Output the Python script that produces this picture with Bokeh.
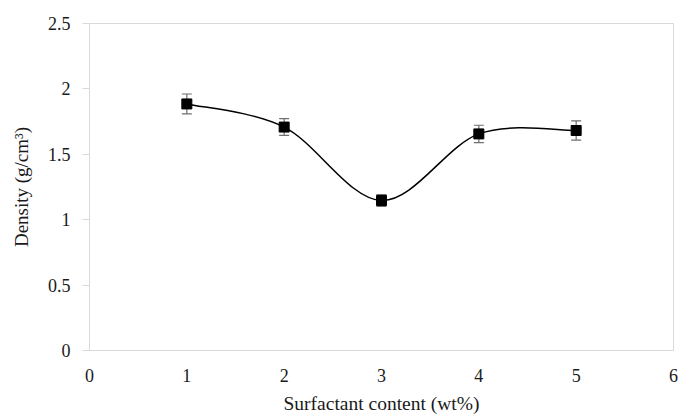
from bokeh.plotting import figure
from bokeh.models import ColumnDataSource, Range1d, FixedTicker, Whisker, TeeHead
from bokeh.embed import file_html
from bokeh.resources import INLINE

# Data
surfactant = [1, 2, 3, 4, 5]
density = [1.885, 1.708, 1.147, 1.656, 1.682]
density_err = [0.076, 0.064, 0.045, 0.066, 0.073]

x_ticks = [0, 1, 2, 3, 4, 5, 6]
y_ticks = [0, 0.5, 1, 1.5, 2, 2.5]
y_tick_labels = ["0", "0.5", "1", "1.5", "2", "2.5"]

FONT = "Liberation Serif"
AXIS_GREY = "#d9d9d9"
TEXT = "#1a1a1a"

p = figure(width=679, height=416, output_backend="svg", toolbar_location=None,
           x_range=Range1d(0, 6), y_range=Range1d(0, 2.5),
           min_border_left=89, min_border_right=6, min_border_top=23, min_border_bottom=66)
p.grid.visible = False
p.outline_line_color = AXIS_GREY
p.background_fill_color = "white"
p.border_fill_color = "white"

# Smoothed line (Catmull-Rom style bezier segments, as in spreadsheet smoothed lines)
n = len(surfactant)
bx0, by0, bx1, by1, cx0, cy0, cx1, cy1 = [], [], [], [], [], [], [], []
for i in range(n - 1):
    xp, yp = (surfactant[i - 1], density[i - 1]) if i > 0 else (surfactant[i], density[i])
    xa, ya = surfactant[i], density[i]
    xb, yb = surfactant[i + 1], density[i + 1]
    xn, yn = (surfactant[i + 2], density[i + 2]) if i + 2 < n else (xb, yb)
    bx0.append(xa); by0.append(ya); bx1.append(xb); by1.append(yb)
    cx0.append(xa + (xb - xp) / 6); cy0.append(ya + (yb - yp) / 6)
    cx1.append(xb - (xn - xa) / 6); cy1.append(yb - (yn - ya) / 6)
bsrc = ColumnDataSource(dict(x0=bx0, y0=by0, x1=bx1, y1=by1, cx0=cx0, cy0=cy0, cx1=cx1, cy1=cy1))
p.bezier(x0="x0", y0="y0", x1="x1", y1="y1", cx0="cx0", cy0="cy0", cx1="cx1", cy1="cy1",
         source=bsrc, line_color="black", line_width=1.5)

src = ColumnDataSource(dict(x=surfactant, y=density,
                            upper=[d + e for d, e in zip(density, density_err)],
                            lower=[d - e for d, e in zip(density, density_err)]))
wh = Whisker(base="x", upper="upper", lower="lower", source=src, line_color="#6e6e6e", line_width=1.2,
             upper_head=TeeHead(size=10, line_color="#6e6e6e", line_width=1.2),
             lower_head=TeeHead(size=10, line_color="#6e6e6e", line_width=1.2))
p.add_layout(wh)
p.scatter("x", "y", source=src, marker="square", size=10, fill_color="black", line_color="black")

# Axes
p.xaxis.ticker = FixedTicker(ticks=x_ticks)
p.yaxis.ticker = FixedTicker(ticks=y_ticks)
p.yaxis.major_label_overrides = {t: l for t, l in zip(y_ticks, y_tick_labels)}
for ax in (p.xaxis[0], p.yaxis[0]):
    ax.axis_line_color = AXIS_GREY
    ax.major_tick_line_color = AXIS_GREY
    ax.minor_tick_line_color = None
    ax.major_label_text_font = FONT
    ax.major_label_text_font_size = "18px"
    ax.major_label_text_color = TEXT
    ax.axis_label_text_font = FONT
    ax.axis_label_text_font_style = "normal"
    ax.axis_label_text_color = TEXT
p.xaxis.axis_label_text_font_size = "19.5px"
p.yaxis.axis_label_text_font_size = "19px"
p.xaxis.major_tick_out = 0
p.xaxis.major_tick_in = 0
p.xaxis.major_label_standoff = 18
p.xaxis.axis_label_standoff = 8
p.yaxis.major_tick_out = 7
p.yaxis.major_tick_in = 0
p.yaxis.major_label_standoff = 12
p.yaxis.axis_label_standoff = 13
p.xaxis.axis_label = "Surfactant content (wt%)"
p.yaxis.axis_label = "Density (g/cm³)"

open("out.html", "w").write(file_html(p, INLINE))
